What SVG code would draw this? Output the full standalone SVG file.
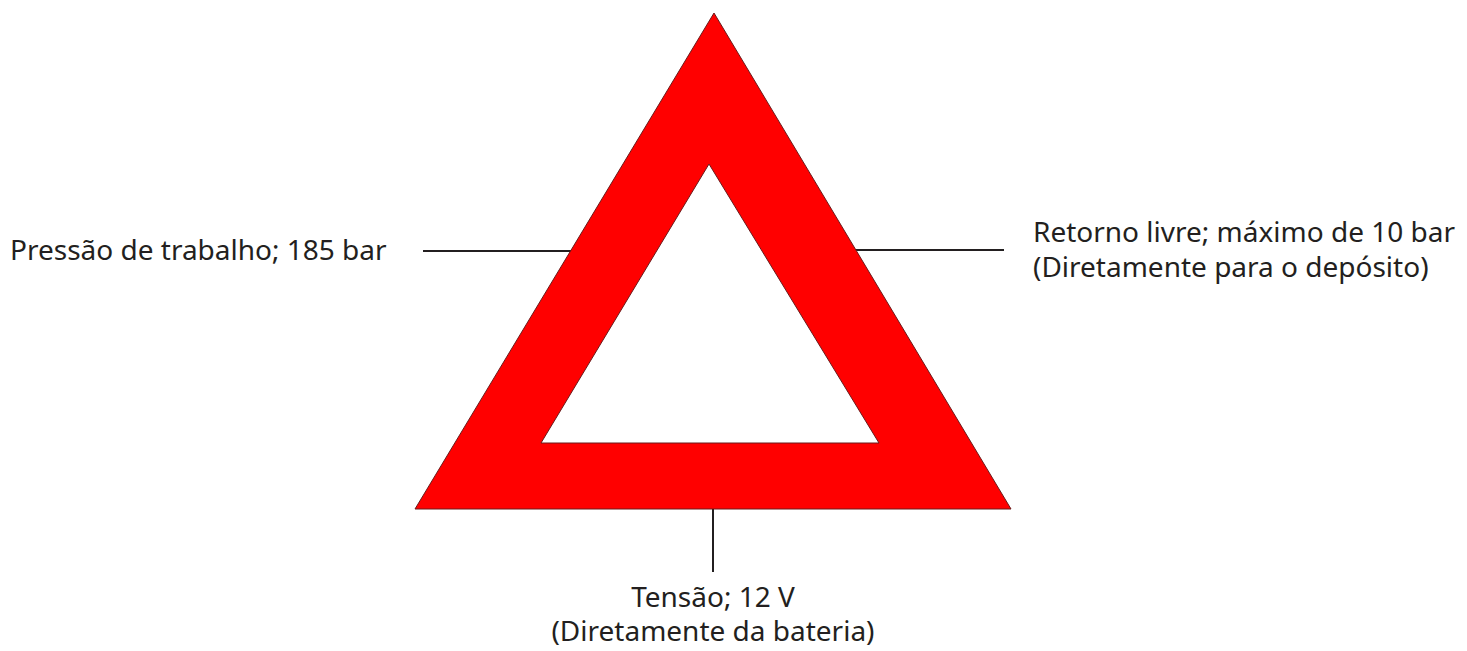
<svg xmlns="http://www.w3.org/2000/svg" width="1467" height="651" viewBox="0 0 1467 651">
<style>
.lbl{font-family:"Noto Sans","Liberation Sans",sans-serif;font-size:28px;fill:#231f20}
.ln{stroke:#231f20;stroke-width:2;fill:none}
</style>
<rect width="1467" height="651" fill="#fff"/>
<g id="connectors">
<line class="ln" x1="423" y1="251" x2="575" y2="251"/>
<line class="ln" x1="850" y1="250" x2="1004" y2="250"/>
<line class="ln" x1="713" y1="505" x2="713" y2="572"/>
</g>
<g id="triangle">
<path d="M714,13 L1011,509 L415,509 Z M709,164 L541,443 L879,443 Z" fill="#ff0000" fill-rule="evenodd" stroke="#6b1a1a" stroke-width="1"/>
</g>
<g id="label-pressao">
<text class="lbl" x="10" y="260">Pressão de trabalho; 185 bar</text>
</g>
<g id="label-retorno">
<text class="lbl" x="1033" y="242">Retorno livre; máximo de 10 bar</text>
<text class="lbl" x="1033" y="277">(Diretamente para o depósito)</text>
</g>
<g id="label-tensao">
<text class="lbl" x="713" y="607" text-anchor="middle">Tensão; 12 V</text>
<text class="lbl" x="713" y="641" text-anchor="middle">(Diretamente da bateria)</text>
</g>
</svg>
